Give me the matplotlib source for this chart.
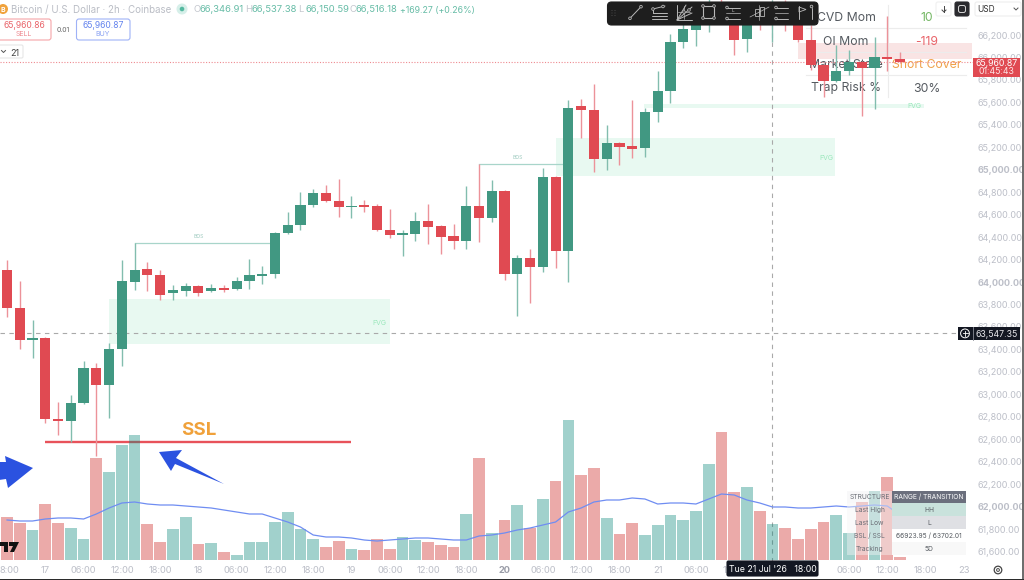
import matplotlib
matplotlib.use("Agg")
import matplotlib.pyplot as plt
from matplotlib.patches import Rectangle, FancyBboxPatch, Polygon, Circle

plt.rcParams['font.family'] = ['Inter', 'DejaVu Sans']

# ---- data (bar index 0 = 17 Jul 00:00, 2h bars) ----
first_bar = -3
opens = [64107,63769,63484,63502,62776,62763,62923,63235,63083,63404,64000,64116,64063,63902,63920,63965,63920,
         63947,63938,64009,64058,64072,64437,64508,64686,64793,64722,64664,64686,64677,64464,64419,64428,64544,
         64499,64410,64366,64677,64570,64811,64072,64214,64134,64936,64276,65568,65532,65096,65238,65212,65194,
         65514,65701,66138,66245,66334,66494,66405,66164,66378,66289,66467,66334,66155,65933,65790,65879,65960,
         65906,66004,65986]
closes = [63769,63484,63493,62780,62767,62923,63235,63083,63404,64009,64107,64063,63885,63929,63965,63902,63947,
          63929,64009,64063,64072,64437,64508,64686,64793,64722,64668,64677,64668,64464,64419,64437,64544,64490,
          64401,64366,64677,64570,64811,64072,64214,64134,64936,64276,65550,65532,65096,65238,65203,65185,65514,
          65701,66138,66253,66334,66494,66405,66155,66378,66289,66467,66334,66155,65933,65790,65879,65960,65906,
          66004,65986,65960]
highs = [64196,64009,63662,63510,62932,62994,63297,63279,63457,64196,64348,64178,64107,63974,63991,63974,63983,
         63974,64045,64205,64143,64446,64624,64802,64829,64864,64918,64766,64731,64695,64650,64464,64624,64695,
         64508,64517,64855,65051,64909,64820,64241,64294,65016,64944,65621,65630,65764,65399,65247,65621,65550,
         65879,66209,66334,66440,66556,66556,66467,66440,66423,66511,66511,66440,66289,65940,66111,66066,65968,
         66182,66369,66049]
lows = [63689,63404,63324,62745,62638,62576,62915,62451,62789,63252,63929,63920,63840,63840,63876,63876,63911,
        63911,63929,63938,63983,64036,64428,64464,64668,64715,64579,64570,64624,64455,64392,64232,64366,64339,
        64250,64294,64294,64357,64535,64018,63698,63813,64089,64125,64000,65283,64980,64998,65042,65105,65114,
        65425,65595,66084,66102,66227,66334,66022,66049,66245,66138,66236,66138,65888,65648,65782,65844,65479,
        65541,65879,65952]
volumes = [43,37,30,56,37,32,21,102,88,115,125,36,18,31,43,16,17,8,5,18,18,38,48,31,21,13,19,11,10,21,11,23,20,
           18,15,13,46,102,27,40,55,32,61,79,140,85,92,42,26,37,25,35,45,40,49,96,128,68,73,49,36,32,21,31,38,
           45,27,58,69,83,3]
volume_ma = [40,39,39,41,42,42,41,46,52,57,58,56,55,55,54,53,52,50,48,46,46,42,38,33,25,23,23,22,20,19,20,21,22,
             22,21,20,20,24,25,27,30,32,35,38,48,52,58,60,60,62,61,56,57,57,56,61,66,65,60,57,53,53,52,52,53,54,
             53,54,55,54,45]

price_ticks = list(range(61600, 66400, 200))
bold_prices = [62000, 64000, 65000]
time_ticks = [-2.8,0,3,6,9,12,15,18,21,24,27,30,33,36,39,42,45,48,51,54,63,66,69,72]
time_labels = ['8:00','17','06:00','12:00','18:00','18','06:00','12:00','18:00','19','06:00','12:00','18:00',
               '20','06:00','12:00','18:00','21','06:00','12:00','06:00','12:00','18:00','23']

# zones: (first bar, last bar, bottom price, top price, label bar, label price)
fvg_zones = [(5.0, 27.0, 63448, 63849, 26.2, 63644),
             (40.0, 61.9, 64945, 65285, 61.2, 65105),
             (46.9, 68.9, 65550, 65585, 68.1, 65570)]
bos_levels = [(7, 18, 64348, 12.0), (34, 41, 65051, 37.0)]
ssl_level, ssl_start, ssl_end = 62576, 0, 24.0
ssl_label_bar, ssl_label_price = 12.0, 62700
crosshair_price, crosshair_bar = 63547.35, 57
last_price = 65960.87

GREEN, RED = '#419882', '#e04a52'
GREEN_W, RED_W = '#82bdae', '#ec9299'
TICK = '#bcbfc8'

W, H = 1024, 580
fig = plt.figure(figsize=(W/100, H/100), dpi=100, facecolor='white')
pos = [0, (H-562)/H, 977/W, 562/H]

def ui_axes(z):
    a = fig.add_axes([0, 0, 1, 1], zorder=z)
    a.set_xlim(0, W); a.set_ylim(H, 0); a.axis('off'); a.patch.set_alpha(0)
    return a

under = ui_axes(1)
top = ui_axes(6)

ax = fig.add_axes(pos, zorder=2)
ax.patch.set_alpha(0)
ax.set_xlim(-3.551, 73.03)
ax.set_ylim(61507.1, 66511.7)
for s in ax.spines.values():
    s.set_visible(False)

vax = fig.add_axes(pos, zorder=3)
vax.patch.set_alpha(0)
vax.set_xlim(ax.get_xlim()); vax.set_ylim(-2, 560)
vax.axis('off')

VC = 'center_baseline'

# zones & structure
for x0, x1, y0, y1, lx, ly in fvg_zones:
    ax.add_patch(Rectangle((x0, y0), x1-x0, y1-y0, fc='#e8f9f1', ec='none', zorder=1))
    ax.text(lx, ly, 'FVG', fontsize=5, color='#9be8bc', ha='center', va=VC, zorder=2)
for x0, x1, lvl, lx in bos_levels:
    ax.plot([x0, x1], [lvl, lvl], color='#a8d5ca', lw=0.9, zorder=2)
    ax.text(lx, lvl+62, 'BOS', fontsize=3.6, color='#9cc9be', ha='center', va=VC, zorder=2)
ax.plot([ssl_start, ssl_end], [ssl_level]*2, color='#e8525a', lw=1.7, zorder=2, solid_capstyle='butt')
ax.text(ssl_label_bar, ssl_label_price, 'SSL', fontsize=13.5, fontweight='bold', color='#f0a13a', ha='center', va=VC, zorder=2)

# crosshair + price line
ax.axhline(crosshair_price, color='#a9a9a9', lw=0.8, ls=(0, (4, 4)), zorder=2)
ax.axvline(crosshair_bar, color='#a9a9a9', lw=0.8, ls=(0, (4, 4)), zorder=2)
ax.axhline(last_price, color='#ee8a90', lw=0.8, ls=(0, (1, 1.5)), zorder=2)

# candles
for i, (o, c, hi, lo) in enumerate(zip(opens, closes, highs, lows)):
    k = first_bar + i
    up = c >= o
    ax.plot([k, k], [lo, hi], color=GREEN_W if up else RED_W, lw=1.0, zorder=3, solid_capstyle='butt')
    ax.bar(k, max(abs(c-o), 14), 0.8, bottom=min(o, c), color=GREEN if up else RED, zorder=4)

# volume
vcol = ['#0a8679' if c >= o else '#d95755' for o, c in zip(opens, closes)]
valp = [0.38 if c >= o else 0.5 for o, c in zip(opens, closes)]
idx = [first_bar+i for i in range(len(volumes))]
for k, v, col, al in zip(idx, volumes, vcol, valp):
    vax.bar(k, v, 0.92, color=col, alpha=al, zorder=2)
vax.plot(idx, volume_ma, color='#6f8df2', lw=0.9, zorder=3)

# axes ticks
ax.yaxis.tick_right()
ax.set_yticks(price_ticks)
ax.set_yticklabels([f'{p:,.2f}' for p in price_ticks], fontsize=6.5, color=TICK)
for lab, p in zip(ax.get_yticklabels(), price_ticks):
    if p in bold_prices:
        lab.set_fontweight('bold')
ax.set_xticks(time_ticks)
ax.set_xticklabels(time_labels, fontsize=6.7, color=TICK)
for lab, t in zip(ax.get_xticklabels(), time_labels):
    if t == '20':
        lab.set_fontweight('bold'); lab.set_color('#9a9da8')
ax.tick_params(axis='both', length=0)
ax.tick_params(axis='x', pad=3)
ax.tick_params(axis='y', pad=0.5)

# ---- table under the candles ----
under.add_patch(Rectangle((798, 43), 174, 16, fc='#f9e4e4', ec='none', zorder=1))
for y in (27.5, 52, 74.5):
    under.plot([806, 966], [y, y], color='#ececec', lw=0.8, zorder=1)
under.plot([888, 888], [5, 97], color='#ececec', lw=0.8, zorder=1)
rows = [('CVD Mom', '10', '#76b866'), ('OI Mom', '-119', '#e9646a'),
        ('Market State', 'Short Cover', '#f0a24b'), ('Trap Risk %', '30%', '#555a60')]
for (n, v, c), y in zip(rows, (16.5, 40.5, 63.5, 87)):
    under.text(846, y, n, fontsize=8.8, color='#555a60', ha='center', va=VC, zorder=2)
    under.text(927, y, v, fontsize=8.8, color=c, ha='center', va=VC, zorder=2)

# header
under.add_patch(Circle((3, 9), 5, fc='#f0a23c', ec='none'))
under.text(3, 9, 'B', fontsize=5, fontweight='bold', color='white', ha='center', va=VC)
under.text(11, 9, 'Bitcoin / U.S. Dollar · 2h · Coinbase', fontsize=7.0, color='#babdc5', va=VC)
under.add_patch(Circle((182, 9), 5.5, fc='#d6efe9', ec='none'))
under.add_patch(Circle((182, 9), 2.3, fc='#53b89f', ec='none'))
for x, a, b in [(193, 'O', '66,346.91'), (245, 'H', '66,537.38'), (298, 'L', '66,150.59'), (349, 'C', '66,516.18')]:
    under.text(x, 9, a, fontsize=6.8, color='#c4c7ce', va=VC)
    under.text(x+7, 9, b, fontsize=6.8, color='#66bca6', va=VC)
under.text(400, 9, '+169.27 (+0.26%)', fontsize=6.3, color='#66bca6', va=VC)

def box(a, x0, y0, x1, y1, fc, ec, r=2.5, lw=0.8, z=5):
    a.add_patch(FancyBboxPatch((x0+r, y0+r), x1-x0-2*r, y1-y0-2*r, boxstyle=f'round,pad={r}',
                               fc=fc, ec=ec, lw=lw, zorder=z))

box(top, -3, 19, 51, 40, 'white', '#f6a5a8')
top.text(24, 25, '65,960.86', fontsize=6.2, color='#e9646a', ha='center', va=VC, zorder=6)
top.text(24, 34, 'SELL', fontsize=5, color='#ee8a90', ha='center', va=VC, zorder=6)
top.text(63.5, 30, '0.01', fontsize=5, color='#666666', ha='center', va=VC, zorder=6)
box(top, 76.5, 19, 130, 40, 'white', '#9fb2f7')
top.text(103, 25, '65,960.87', fontsize=6.2, color='#6484ee', ha='center', va=VC, zorder=6)
top.text(103, 34, 'BUY', fontsize=5, color='#8aa2f2', ha='center', va=VC, zorder=6)
box(top, -3, 45, 23, 58, 'white', '#e6e6e6', r=1.5)
top.plot([1.5, 3.5, 5.5], [50.5, 52.5, 50.5], color='#555555', lw=0.7, zorder=6)
top.text(15, 52, '21', fontsize=6.5, color='#444444', ha='center', va=VC, zorder=6)

# toolbar
box(top, 607.5, 2, 818, 25, '#1e1e1e', '#1e1e1e', r=4)
ic = '#b9b9b9'
def seg(xs, ys, lw=0.7):
    top.plot(xs, ys, color=ic, lw=lw, zorder=7, solid_capstyle='round')
def dot(x, y, r=1.3):
    top.add_patch(Circle((x, y), r, fc='#1e1e1e', ec=ic, lw=0.6, zorder=8))
for dx in (612, 615):
    for dy in (10.5, 13, 15.5):
        top.add_patch(Circle((dx, dy), 0.5, fc='#555555', ec='none', zorder=7))
seg([630, 641], [18.3, 6.7]); dot(630, 18.3); dot(641, 6.7)
seg([653, 665], [9, 6]); seg([653, 653], [9, 13]); seg([653, 667], [13, 13])
seg([652, 667], [16, 16]); seg([652, 667], [18.5, 18.5]); dot(653, 9); dot(663, 6.5)
seg([677, 677, 692], [5, 20, 20]); seg([677, 692], [20, 7]); seg([677, 686], [20, 5]); seg([677, 692], [20, 13])
seg([678, 690], [12, 12], 0.5); seg([684, 684], [6, 19], 0.5); dot(684, 12); dot(689, 10)
top.add_patch(Rectangle((703, 6), 11, 12, fc='none', ec=ic, lw=0.8, zorder=7))
for x, y in [(703, 6), (714, 6), (703, 18), (714, 18)]:
    dot(x, y)
seg([726, 740], [7.5, 7.5]); seg([726, 740], [18.5, 18.5]); seg([726, 740], [13, 13], 0.5)
dot(727, 7.5); dot(727, 18.5)
top.text(733, 10.5, 'L', fontsize=3.5, color=ic, ha='center', va=VC, zorder=7)
top.add_patch(Rectangle((755, 9), 3.5, 7, fc='none', ec=ic, lw=0.6, zorder=7))
top.add_patch(Rectangle((760, 7), 3.5, 9, fc='none', ec=ic, lw=0.6, zorder=7))
seg([750, 769], [17, 7], 0.5); seg([759, 759], [5, 20], 0.5)
seg([775, 788], [7.5, 7.5]); seg([775, 788], [18.5, 18.5]); seg([775, 788], [13, 13], 0.5)
dot(776, 7.5); dot(776, 18.5)
seg([799, 799], [6, 19]); top.add_patch(Polygon([(799, 7), (806, 9.5), (799, 12)], fc='none', ec=ic, lw=0.6, zorder=7))
seg([811.5, 811.5], [8, 19]); dot(811.5, 6.5)

# top right buttons
box(top, 936, 2, 951, 16, 'white', '#f0f0f0', r=2)
top.plot([944, 944], [5.5, 12], color='#444444', lw=0.7, zorder=6)
top.plot([942, 944, 946], [10, 12, 10], color='#444444', lw=0.7, zorder=6)
box(top, 955, 2, 969, 16, '#2a2a2e', '#2a2a2e', r=2)
box(top, 958.5, 5.5, 965.5, 12.5, 'none', '#d8d8d8', r=2, lw=0.7, z=6)
box(top, 975, 2, 1021, 16, 'white', '#eeeeee', r=2)
top.text(977, 9, 'USD', fontsize=6, color='#333333', va=VC, zorder=6)
top.plot([1014, 1016, 1018], [8, 10, 8], color='#555555', lw=0.7, zorder=6)

# price labels
top.add_patch(Rectangle((973, 57.5), 47, 19.5, fc='#e04a52', ec='none', zorder=5))
top.text(996.5, 62.5, '65,960.87', fontsize=6.3, color='white', ha='center', va=VC, zorder=6)
top.text(996.5, 71, '01:45:43', fontsize=6.3, color='#fde5e6', ha='center', va=VC, zorder=6)
top.add_patch(Rectangle((958, 326.5), 62, 13.8, fc='#131722', ec='none', zorder=5))
top.plot([972.5, 972.5], [326.5, 340.3], color='#8a8d96', lw=0.6, zorder=6)
top.add_patch(Circle((965, 333.4), 4.4, fc='none', ec='white', lw=0.7, zorder=6))
top.plot([962.5, 967.5], [333.4, 333.4], color='white', lw=0.6, zorder=6)
top.plot([965, 965], [330.9, 335.9], color='white', lw=0.6, zorder=6)
top.text(996.5, 333.4, '63,547.35', fontsize=6.3, color='#e8e8ec', ha='center', va=VC, zorder=6)

# date tooltip
box(top, 727, 561, 818, 576, '#131722', '#131722', r=1.5)
top.text(772.5, 569, "Tue 21 Jul '26   18:00", fontsize=6.3, color='white', ha='center', va=VC, zorder=6)

# gear
top.add_patch(Circle((998, 570), 3.8, fc='none', ec='#444444', lw=0.9, zorder=6))
top.add_patch(Circle((998, 570), 1.4, fc='none', ec='#444444', lw=0.7, zorder=6))

# arrows
blue = '#2b52e0'
top.add_patch(Polygon([(33, 468), (5, 456), (6, 462), (-1, 462), (-1, 480), (6, 479), (8, 488)],
                      fc=blue, ec='none', zorder=5))
top.add_patch(Polygon([(159, 452), (182, 450), (176, 458), (224, 484), (175, 464), (171, 471)],
                      fc=blue, ec='none', zorder=5))

# logo fragment
top.add_patch(Polygon([(0, 542), (8, 542), (8, 552), (4, 552), (4, 546), (0, 546)], fc='#111111', ec='none', zorder=5))
top.add_patch(Polygon([(9, 542), (19, 542), (14, 552), (10, 552), (13, 546), (9, 546)], fc='#111111', ec='none', zorder=5))

# bottom right table
tcells = [(847, 490.5, 892, 503, 'STRUCTURE', '#f1f1f3'), (847, 503, 892, 516, 'Last High', '#f4f4f4'),
          (847, 516, 892, 529, 'Last Low', '#f4f4f4'), (847, 529, 892, 542, 'BSL / SSL', '#f4f4f4'),
          (847, 542, 892, 555, 'Tracking', '#f4f4f4')]
for x0, y0, x1, y1, t, c in tcells:
    top.add_patch(Rectangle((x0, y0), x1-x0, y1-y0, fc=c, alpha=0.45, ec='none', zorder=4))
    top.text((x0+x1)/2, (y0+y1)/2, t, fontsize=4.8, color='#6a6d75', ha='center', va=VC, zorder=6)
rcells = [(490.5, 503, 'RANGE / TRANSITION', '#6b6f7d', 'white'), (503, 516, 'HH', '#c9e2dc', '#555a60'),
          (516, 529, 'L', '#dfe0e4', '#555a60'), (529, 542, '66923.95 / 63702.01', '#ffffff', '#555a60'),
          (542, 555, '5D', '#f8f8f8', '#555a60')]
for y0, y1, t, c, tc in rcells:
    top.add_patch(Rectangle((892, y0), 74, y1-y0, fc=c, ec='none', zorder=5))
    top.text(929, (y0+y1)/2, t, fontsize=4.8, color=tc, ha='center', va=VC, zorder=6)

# window edge
top.add_patch(Rectangle((1022.3, 0), 2, H, fc='#6e6e6e', ec='none', zorder=9))
top.add_patch(Rectangle((0, 578.6), W, 2, fc='#2b2b2b', ec='none', zorder=9))

fig.savefig('out.png', dpi=100, facecolor='white')
